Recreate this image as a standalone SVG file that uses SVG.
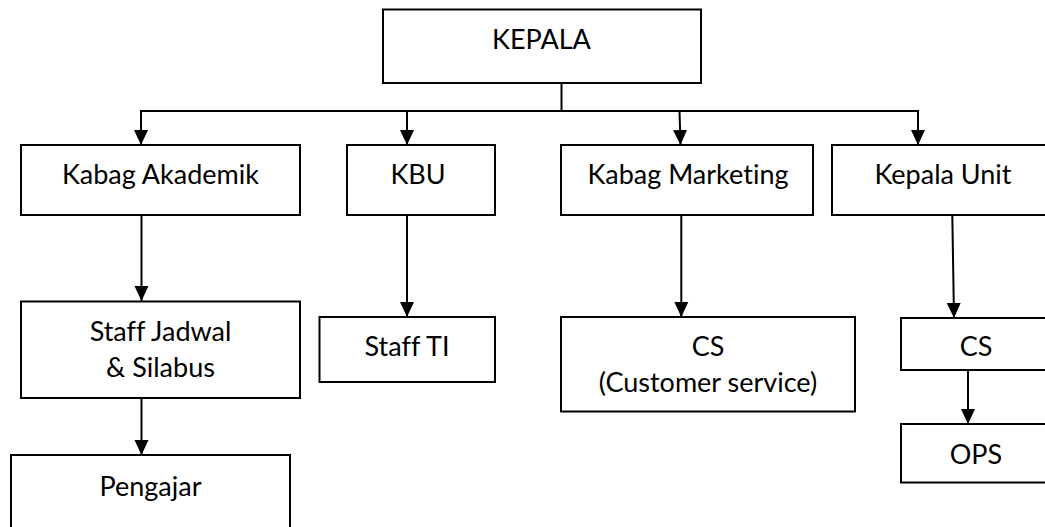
<svg xmlns="http://www.w3.org/2000/svg" width="1045" height="527" viewBox="0 0 1045 527">
<style>
.box{fill:#fff;stroke:#000;stroke-width:2}
.t{font-family:Lato,"Liberation Sans",sans-serif;font-size:27px;fill:#000;text-anchor:middle;font-variant-ligatures:none;font-feature-settings:"liga" 0}
.c{fill:none;stroke:#000;stroke-width:2}
.a{fill:none;stroke:#000;stroke-width:2;marker-end:url(#ah)}
</style>
<defs>
<marker id="ah" markerUnits="userSpaceOnUse" markerWidth="15" markerHeight="15" viewBox="0 0 15 14" refX="15" refY="7" orient="auto">
<path d="M0,0 L15,7 L0,14 Z" fill="#000"/>
</marker>
</defs>
<rect width="1045" height="527" fill="#fff"/>
<g id="connectors">
<line class="c" x1="561.5" y1="83" x2="561.5" y2="111" stroke-width="1.6"/>
<line class="c" x1="140" y1="111" x2="919" y2="111"/>
<path class="a" d="M141,111 L141,145"/>
<path class="a" d="M407,111 L407,145"/>
<path class="a" d="M679.5,111 L680.5,145"/>
<path class="a" d="M918,111 L918,145"/>
<path class="a" d="M141.5,215 L141.5,301"/>
<path class="a" d="M407,215 L407,317"/>
<path class="a" d="M681.3,215 L681.3,317"/>
<path class="a" d="M952.3,215 L954,318"/>
<path class="a" d="M141.5,398 L141.5,455"/>
<path class="a" d="M968,370 L968,424"/>
</g>
<g id="kepala"><rect class="box" x="383" y="9.5" width="318" height="73.5"/><text class="t" x="541.5" y="48.5">KEPALA</text></g>
<g id="kabag-akademik"><rect class="box" x="21" y="145" width="279" height="70"/><text class="t" x="160.5" y="183.5">Kabag Akademik</text></g>
<g id="kbu"><rect class="box" x="347" y="145" width="148" height="70"/><text class="t" x="418" y="183.5">KBU</text></g>
<g id="kabag-marketing"><rect class="box" x="561" y="145" width="252" height="70"/><text class="t" x="688" y="183.5">Kabag Marketing</text></g>
<g id="kepala-unit"><rect class="box" x="832" y="145" width="220" height="70"/><text class="t" x="943" y="183.5">Kepala Unit</text></g>
<g id="staff-jadwal"><rect class="box" x="21" y="301.5" width="279" height="96.5"/><text class="t" x="160.5" y="340.5">Staff Jadwal</text><text class="t" x="160.5" y="377">&amp; Silabus</text></g>
<g id="staff-ti"><rect class="box" x="319.5" y="317" width="175.5" height="65"/><text class="t" x="407" y="356">Staff TI</text></g>
<g id="cs-marketing"><rect class="box" x="561" y="317" width="294" height="94.5"/><text class="t" x="708" y="356">CS</text><text class="t" x="708" y="392">(Customer service)</text></g>
<g id="cs-unit"><rect class="box" x="901" y="318" width="150" height="52"/><text class="t" x="976" y="356">CS</text></g>
<g id="ops"><rect class="box" x="901" y="424" width="150" height="58.5"/><text class="t" x="976" y="463.5">OPS</text></g>
<g id="pengajar"><rect class="box" x="11" y="455" width="279" height="80"/><text class="t" x="150.5" y="495.5">Pengajar</text></g>
</svg>
